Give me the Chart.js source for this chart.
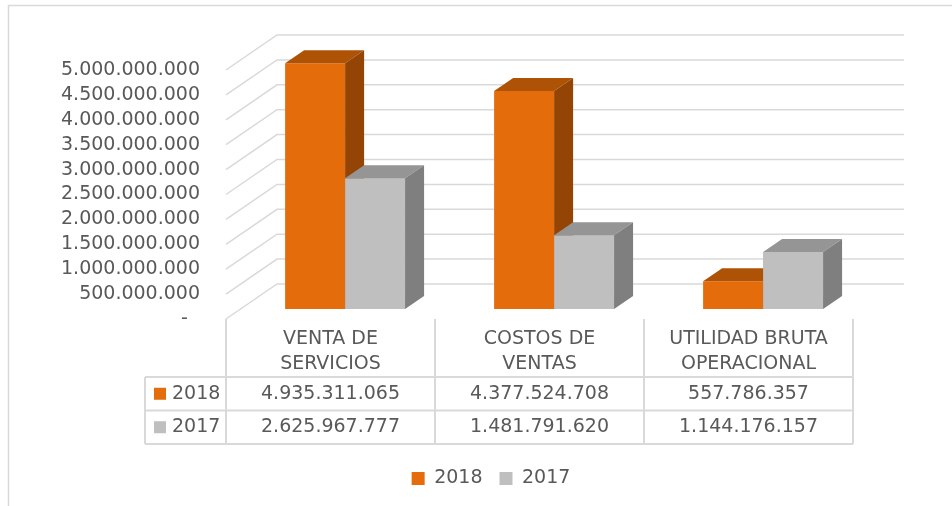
<!DOCTYPE html>
<html>
<head>
<meta charset="utf-8">
<script src="https://cdn.jsdelivr.net/npm/chart.js@4.4.1/dist/chart.umd.min.js"></script>
<style>
  html, body { margin: 0; padding: 0; background: #fff; }
  #wrap { position: relative; width: 952px; height: 506px; }
</style>
</head>
<body>
<div id="wrap"><canvas id="chart"></canvas></div>
<script>
// Chart data
const categories = [['VENTA DE', 'SERVICIOS'], ['COSTOS DE', 'VENTAS'], ['UTILIDAD BRUTA', 'OPERACIONAL']];
const seriesNames = ['2018', '2017'];
const values2018 = [4935311065, 4377524708, 557786357];
const values2017 = [2625967777, 1481791620, 1144176157];
const yMin = 0;
const yMax = 5000000000;
const yStep = 500000000;

// 3D look
const FLOOR_DX = 51, FLOOR_DY = -35;
const BAR_SHIFT_X = 14.6, BAR_SHIFT_Y = -10;
const BAR_DX = 19, BAR_DY = -13;
const LINE_COLOR = '#d9d9d9';
const TEXT_COLOR = '#595959';

// Format numbers as 1.234.567
function formatNumber(v) {
    return String(v).replace(/\B(?=(\d{3})+(?!\d))/g, '.');
}

// Top and side faces of one dataset's bars
function drawBarFaces(ctx, meta, ds) {
    meta.data.forEach(bar => {
        const p = bar.getProps(['x', 'y', 'base', 'width'], true);
        const l = p.x - p.width / 2, r = p.x + p.width / 2;
        ctx.fillStyle = ds.topColor;
        ctx.beginPath();
        ctx.moveTo(l, p.y);
        ctx.lineTo(r, p.y);
        ctx.lineTo(r + BAR_DX, p.y + BAR_DY);
        ctx.lineTo(l + BAR_DX, p.y + BAR_DY);
        ctx.closePath();
        ctx.fill();
        ctx.fillStyle = ds.sideColor;
        ctx.beginPath();
        ctx.moveTo(r, p.y);
        ctx.lineTo(r + BAR_DX, p.y + BAR_DY);
        ctx.lineTo(r + BAR_DX, p.base + BAR_DY);
        ctx.lineTo(r, p.base);
        ctx.closePath();
        ctx.fill();
    });
}

const chart3dPlugin = {
    id: 'chart3d',
    afterLayout(chart) {
        // legend is centred under the table, not the whole canvas
        chart.legend.left = 129;
    },
    beforeDraw(chart) {
        const ctx = chart.ctx;
        // outer frame (left and top only)
        ctx.save();
        ctx.strokeStyle = LINE_COLOR;
        ctx.lineWidth = 1.5;
        ctx.beginPath();
        ctx.moveTo(8.5, 506);
        ctx.lineTo(8.5, 5.5);
        ctx.lineTo(952, 5.5);
        ctx.stroke();
        ctx.restore();
    },
    beforeDatasetsDraw(chart) {
        const ctx = chart.ctx;
        const yScale = chart.scales.y;
        const area = chart.chartArea;
        // side wall and back wall gridlines
        ctx.save();
        ctx.strokeStyle = LINE_COLOR;
        ctx.lineWidth = 1.5;
        yScale.ticks.forEach(t => {
            const y = yScale.getPixelForValue(t.value);
            ctx.beginPath();
            ctx.moveTo(area.left, y);
            ctx.lineTo(area.left + FLOOR_DX, y + FLOOR_DY);
            ctx.lineTo(area.right + FLOOR_DX, y + FLOOR_DY);
            ctx.stroke();
        });
        ctx.restore();
        // bars sit inside the floor depth
        ctx.save();
        ctx.translate(BAR_SHIFT_X, BAR_SHIFT_Y);
    },
    afterDatasetsDraw(chart) {
        const ctx = chart.ctx;
        chart.data.datasets.forEach((ds, i) => {
            const meta = chart.getDatasetMeta(i);
            // later series stand in front of the earlier side faces
            if (i > 0) meta.data.forEach(bar => bar.draw(ctx));
            drawBarFaces(ctx, meta, ds);
        });
        ctx.restore();
    },
    afterDraw(chart) {
        // data table below the categories
        const ctx = chart.ctx;
        const xScale = chart.scales.x;
        const area = chart.chartArea;
        const catW = (area.right - area.left) / categories.length;
        const top = area.bottom;
        const row1 = top + 58, row2 = row1 + 33.5, row3 = row2 + 33.5;
        const labelLeft = 145;
        ctx.save();
        ctx.strokeStyle = LINE_COLOR;
        ctx.lineWidth = 2;
        ctx.beginPath();
        for (let i = 0; i <= categories.length; i++) {
            const x = area.left + i * catW;
            ctx.moveTo(x, top);
            ctx.lineTo(x, row3);
        }
        [row1, row2, row3].forEach(y => {
            ctx.moveTo(labelLeft, y);
            ctx.lineTo(area.right, y);
        });
        ctx.moveTo(labelLeft, row1);
        ctx.lineTo(labelLeft, row3);
        ctx.stroke();

        ctx.font = '19px "DejaVu Sans"';
        ctx.textBaseline = 'middle';
        const rows = [row1, row2];
        chart.data.datasets.forEach((ds, di) => {
            const cy = rows[di] + 33.5 / 2;
            ctx.fillStyle = ds.backgroundColor;
            ctx.fillRect(154, cy - 6, 12, 12);
            ctx.fillStyle = TEXT_COLOR;
            ctx.textAlign = 'left';
            ctx.fillText(ds.label, 172, cy);
            ctx.textAlign = 'center';
            ds.data.forEach((v, i) => {
                ctx.fillText(formatNumber(v), xScale.getPixelForValue(i), cy);
            });
        });
        ctx.restore();
    }
};

Chart.defaults.font.family = '"DejaVu Sans"';
Chart.defaults.font.size = 19;
Chart.defaults.color = TEXT_COLOR;

const ctx = document.getElementById('chart').getContext('2d');
const mainChart = new Chart(ctx, {
    type: 'bar',
    data: {
        labels: categories,
        datasets: [
            {
                label: seriesNames[0],
                data: values2018,
                backgroundColor: '#E46C0A',
                topColor: '#AE5306',
                sideColor: '#944506'
            },
            {
                label: seriesNames[1],
                data: values2017,
                backgroundColor: '#BFBFBF',
                topColor: '#959595',
                sideColor: '#7F7F7F'
            }
        ]
    },
    options: {
        responsive: true,
        maintainAspectRatio: false,
        animation: false,
        barPercentage: 1,
        categoryPercentage: 0.574,
        layout: {
            padding: { left: 0, right: 99, top: 70, bottom: 8 }
        },
        plugins: {
            legend: {
                position: 'bottom',
                labels: {
                    boxWidth: 13,
                    boxHeight: 13,
                    padding: 17,
                    color: TEXT_COLOR,
                    font: { size: 19 }
                }
            },
            tooltip: { enabled: false }
        },
        scales: {
            x: {
                grid: { display: false, drawTicks: false },
                border: { display: false },
                ticks: {
                    padding: 7,
                    font: { size: 19, lineHeight: 1.33 },
                    maxRotation: 0
                },
                afterFit: function(scale) {
                    scale.height = 133;
                }
            },
            y: {
                min: yMin,
                max: yMax,
                grid: { display: false, drawTicks: false },
                border: { display: false },
                ticks: {
                    stepSize: yStep,
                    autoSkip: false,
                    padding: 26,
                    callback: function(value) {
                        return value === 0 ? '-  ' : formatNumber(value);
                    }
                },
                afterFit: function(scale) {
                    scale.width = 226;
                }
            }
        }
    },
    plugins: [chart3dPlugin]
});
</script>
</body>
</html>
